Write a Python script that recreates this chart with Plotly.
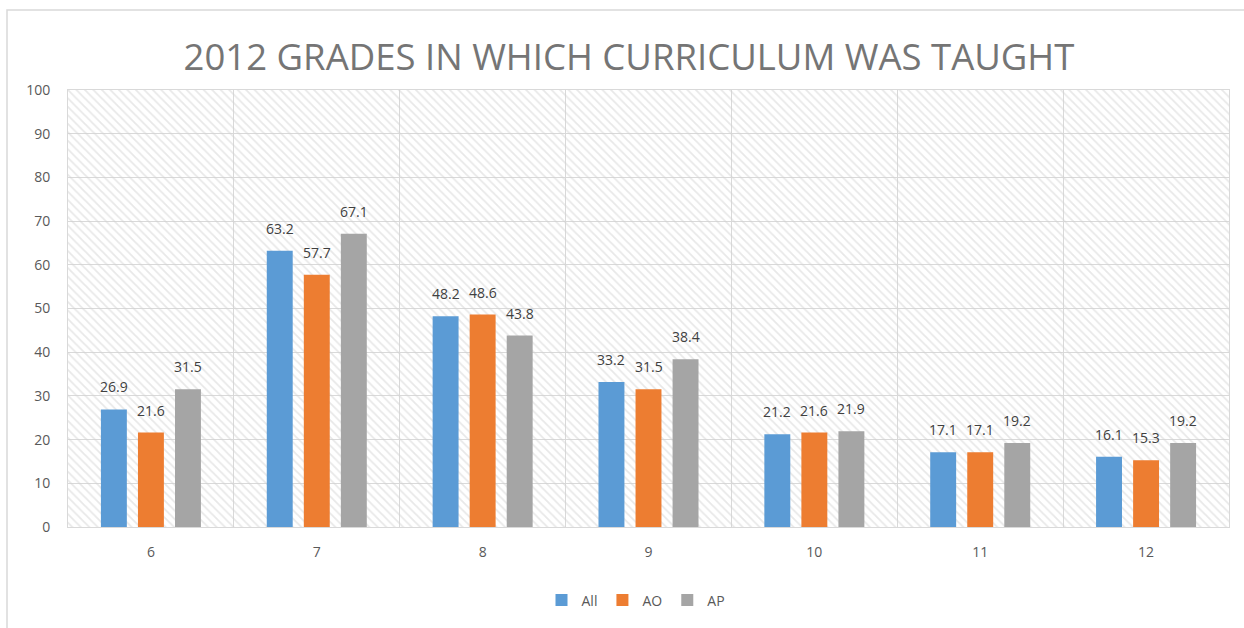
import plotly.graph_objects as go

grades = ["6", "7", "8", "9", "10", "11", "12"]
all_vals = [26.9, 63.2, 48.2, 33.2, 21.2, 17.1, 16.1]
ao_vals = [21.6, 57.7, 48.6, 31.5, 21.6, 17.1, 15.3]
ap_vals = [31.5, 67.1, 43.8, 38.4, 21.9, 19.2, 19.2]
y_ticks = [0, 10, 20, 30, 40, 50, 60, 70, 80, 90, 100]
background_full = [100] * len(grades)

series = [("All", all_vals, "#5b9bd5"), ("AO", ao_vals, "#ed7d31"), ("AP", ap_vals, "#a5a5a5")]

W, H = 1244, 628
ml, mr, mt, mb = 68, W - 1229, 90, H - 530
pw, ph = W - ml - mr, H - mt - mb
BARGAP = 0.33
slot_px = pw / len(grades) * (1 - BARGAP) / len(series)

fig = go.Figure()

# hatched plot background
fig.add_trace(go.Bar(
    x=grades, y=background_full, width=1, xaxis="x", yaxis="y",
    marker=dict(color="rgba(0,0,0,0)", line=dict(width=0),
                pattern=dict(shape="\\", fgcolor="#d2d2d2", bgcolor="rgba(0,0,0,0)",
                             size=6, solidity=0.3)),
    hoverinfo="skip", showlegend=False,
))

annotations = []
for i, (name, vals, color) in enumerate(series):
    fig.add_trace(go.Bar(
        x=grades, y=vals, name=name, xaxis="x2", yaxis="y2",
        marker=dict(color=color, line=dict(width=0)),
    ))
    for j, v in enumerate(vals):
        annotations.append(dict(
            x=j, y=v, xref="x2", yref="y2", text=f"{v:.1f}", showarrow=False,
            xanchor="center", yanchor="bottom", xshift=(i - 1) * slot_px, yshift=11,
            font=dict(size=14, color="#404040", family="Open Sans"),
        ))

fig.update_layout(
    width=W, height=H,
    margin=dict(l=ml, r=mr, t=mt, b=mb),
    paper_bgcolor="white", plot_bgcolor="white",
    font=dict(family="Open Sans", color="#595959"),
    barmode="group", bargap=BARGAP, bargroupgap=0.3,
    title=dict(text="2012 GRADES IN WHICH CURRICULUM WAS TAUGHT",
               x=629 / W, xanchor="center", y=1 - 57 / H, yanchor="middle",
               yref="container", xref="container",
               font=dict(size=36.5, color="#757575", family="Open Sans")),
    xaxis=dict(type="category", categoryorder="array", categoryarray=grades,
               range=[-0.5, 6.5], tickson="boundaries", showgrid=True,
               gridcolor="#d9d9d9", gridwidth=1, ticks="", ticklabelstandoff=12,
               showline=True, linecolor="#d9d9d9", linewidth=1, mirror=True,
               tickfont=dict(size=14, color="#595959"), zeroline=False),
    yaxis=dict(range=[0, 100], tickvals=y_ticks, showgrid=True, gridcolor="#d9d9d9",
               gridwidth=1, ticks="", ticklabelstandoff=14,
               showline=True, linecolor="#d9d9d9", linewidth=1, mirror=True,
               tickfont=dict(size=14, color="#595959"), zeroline=False),
    xaxis2=dict(type="category", categoryorder="array", categoryarray=grades,
                range=[-0.5, 6.5], overlaying="x", visible=False),
    yaxis2=dict(range=[0, 100], overlaying="y", visible=False),
    legend=dict(orientation="h", x=(636 - ml) / pw, xanchor="center",
                y=1 - (604 - mt) / ph, yanchor="middle",
                font=dict(size=14, color="#595959"),
                itemwidth=30, traceorder="normal"),
    showlegend=True,
    annotations=annotations,
)

# outer chart border (left and top visible)
fig.add_shape(type="rect", xref="paper", yref="paper",
              x0=(7 - ml) / pw, x1=1.2, y0=-0.5, y1=1 + (mt - 9.5) / ph,
              line=dict(color="#d9d9d9", width=1.5), fillcolor="rgba(0,0,0,0)", layer="below")

fig.write_html("out.html", config={"displayModeBar": False},
               post_script="document.body.style.margin='0';document.body.style.overflow='hidden';")
